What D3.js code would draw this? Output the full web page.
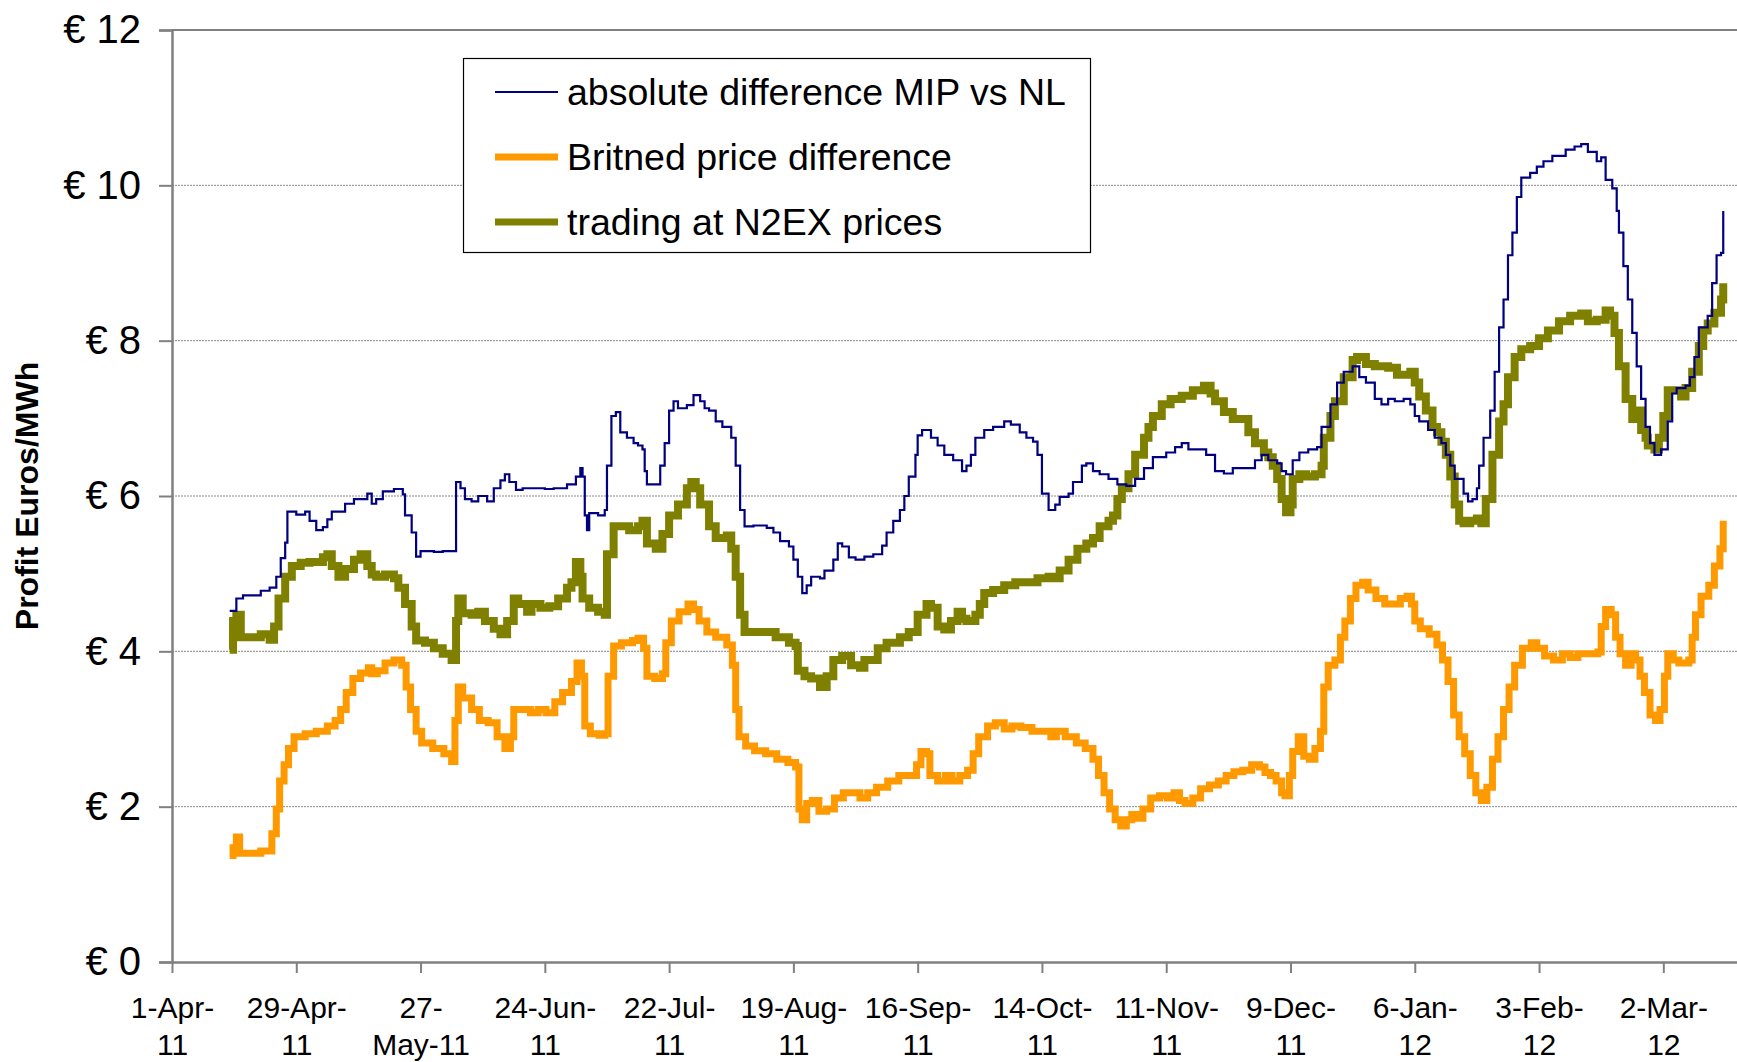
<!DOCTYPE html>
<html>
<head>
<meta charset="utf-8">
<script src="https://cdn.jsdelivr.net/npm/d3@7"></script>
<style>
  html, body { margin: 0; padding: 0; background: #fff; }
  svg { display: block; font-family: "Liberation Sans", Arial, sans-serif; }
</style>
</head>
<body>
<svg id="chart" width="1737" height="1062"></svg>
<script>
// ---------- DATA (days after 1-Apr-2011, values in EUR/MWh) ----------
const seriesNames = ["absolute difference MIP vs NL", "Britned price difference", "trading at N2EX prices"];
const yTickValues = [0, 2, 4, 6, 8, 10, 12];
const yTickLabels = ["€ 0", "€ 2", "€ 4", "€ 6", "€ 8", "€ 10", "€ 12"];
const xTickDays = [0, 28, 56, 84, 112, 140, 168, 196, 224, 252, 280, 308, 336];
const xTickLabels = [
  ["1-Apr-", "11"], ["29-Apr-", "11"], ["27-", "May-11"], ["24-Jun-", "11"], ["22-Jul-", "11"],
  ["19-Aug-", "11"], ["16-Sep-", "11"], ["14-Oct-", "11"], ["11-Nov-", "11"], ["9-Dec-", "11"],
  ["6-Jan-", "12"], ["3-Feb-", "12"], ["2-Mar-", "12"]
];

const mipDays = [13,14.5,16,20,22,23.5,24.5,25.5,26,28,30,31,32.5,34,35,36,39,41,44,45,46,47.5,50,52,52.5,54,55,56,59,61,63,64,65,66,67.5,69,71,72.5,74,75,76,77.5,79,81,84,86,89,91,92,92.5,93,93.5,94,96,97.5,98,99,100,101,102.5,104,105,106,106.5,107,109,110,111,112,113,114,116,117.5,119,120,121,122.5,124,125,126,127,128,129,131,134,135.5,137,139,140,141,142,143,144,146,147,149,150,151,152.5,154,156,158,160,161,162.5,164,165,166,167.5,168,169,171,172.5,174,176,178,179,180,181,183,185,187.5,189,191,192.5,194,195,196,197.5,199,200,202,203,205,206,207.5,209,211,213,215,217,219,221,224,226,227.5,229,231,233,235,237,239,241,244,245.5,247,249,250,251,252.5,254,256,258,259,261,262.5,264,266,267.5,269,271,272.5,274,275.5,277.5,279,280,281,283,284.5,286,287,288,289,291,292,293,294,294.5,295.5,297,298,299,300,301,302,303,304,306,307.5,309,311,314,316,317.5,319,321,322,323,324.5,325.5,326,327,328,329,330,331,332,333,334,335.5,337,338,339,341,342,343,344,346,347,348,349,349.5];
const mipValues = [4.52,4.68,4.72,4.78,4.82,4.96,5.2,5.4,5.8,5.76,5.8,5.68,5.56,5.6,5.7,5.8,5.9,5.96,6.03,5.9,5.96,6.06,6.09,6.02,5.75,5.53,5.22,5.29,5.28,5.29,5.29,6.18,6.1,5.96,5.93,6.0,5.93,6.1,6.2,6.28,6.18,6.08,6.1,6.1,6.09,6.1,6.15,6.25,6.36,6.25,5.75,5.56,5.78,5.75,5.82,6.39,7.03,7.08,6.82,6.75,6.68,6.65,6.6,6.32,6.15,6.15,6.39,6.68,7.1,7.22,7.13,7.17,7.3,7.22,7.13,7.1,6.96,6.89,6.89,6.75,6.39,5.82,5.61,5.62,5.59,5.53,5.42,5.35,5.18,4.96,4.75,4.85,4.96,4.94,5.04,5.18,5.39,5.35,5.21,5.18,5.22,5.25,5.36,5.53,5.68,5.82,6.0,6.25,6.53,6.78,6.85,6.75,6.65,6.53,6.46,6.32,6.39,6.53,6.75,6.85,6.89,6.96,6.92,6.82,6.75,6.7,6.53,6.03,5.82,5.89,5.99,6.03,6.18,6.39,6.42,6.32,6.28,6.22,6.15,6.13,6.22,6.36,6.5,6.56,6.63,6.68,6.6,6.6,6.53,6.32,6.29,6.36,6.36,6.46,6.53,6.46,6.42,6.32,6.28,6.46,6.56,6.6,6.63,6.89,7.18,7.46,7.6,7.67,7.53,7.46,7.25,7.18,7.25,7.22,7.25,7.18,7.03,6.96,6.85,6.75,6.68,6.53,6.39,6.22,6.03,5.93,5.96,6.1,6.39,6.75,7.1,7.6,8.17,8.53,9.1,9.39,9.85,10.1,10.16,10.24,10.31,10.38,10.46,10.5,10.53,10.43,10.31,10.36,10.07,9.96,9.67,9.39,8.96,8.53,8.1,7.67,7.25,6.89,6.68,6.53,6.6,6.96,7.32,7.39,7.42,7.53,7.79,8.17,8.32,8.74,9.1,9.13,9.67];

const britnedDays = [13,13.75,14.5,15.25,17.5,20,22,22.5,23.5,24.25,25.25,26.25,27.5,30,32.5,35,36.75,38,39.25,40.75,42.5,44.25,45,46.25,48,50,51.75,52.75,53.75,55,56.25,58.75,61.25,63,63.75,64.5,65.5,67.5,69.25,71.25,73.25,75,76.25,77,78.75,80.75,82.5,84.25,86.25,88,90,91.25,92.25,93,94.25,96.25,97.5,98.25,99.5,101.25,103.75,105,106.25,107,108.75,110.5,111.25,112.5,114.25,116.25,117.5,118.75,120.5,122.5,125,126.25,127,127.75,129.25,131.25,133.75,136.25,138.75,140.5,141.25,142,143,144.25,145.75,147.5,149.25,151.25,153.25,155,156.75,158.75,161.25,163.75,166.25,167.75,168.75,170,170.75,172.5,174.25,175.75,177.5,179.25,180.5,181.75,183.75,185.5,187.5,189.25,191.25,193.75,196.25,198,199.25,201.25,203.75,205.75,207.5,208.75,210,211.25,212.5,213.75,215,216.25,217.5,218.75,220.5,222.5,224.25,225.75,227,228.25,230,231.75,233.75,235.75,237.5,239.25,241.25,243.25,245,246.25,247.5,248.75,250,250.75,251.75,252.5,253.75,255,256.25,257.5,258.75,259.5,260.5,262,263.25,264.25,265.5,266.75,268.25,269.5,271.25,273.25,275,276.75,278.25,279.25,280,281.25,283.25,285,286.25,287.5,288.75,290,291.25,292.5,293.75,295,296.25,297.5,298.75,300,301.25,302.5,304.25,306.25,307.5,309.25,311.25,313.25,315,316.75,318.75,321.25,322,323,324.25,325.25,326.25,327.5,328.75,329.75,330.75,331.75,333,334.25,335.25,336.25,337,338.25,339.5,340.75,341.75,342.5,343.25,344.5,346.25,347.5,348.75,349.5];
const britnedValues = [1.37,1.47,1.61,1.4,1.4,1.43,1.43,1.65,1.97,2.33,2.54,2.75,2.9,2.94,2.97,3.04,3.11,3.25,3.47,3.65,3.72,3.79,3.71,3.75,3.85,3.89,3.82,3.54,3.25,2.97,2.82,2.75,2.68,2.58,3.11,3.54,3.4,3.25,3.11,3.08,2.9,2.75,2.9,3.25,3.25,3.21,3.25,3.21,3.35,3.47,3.61,3.85,3.68,3.04,2.94,2.92,2.94,3.68,4.07,4.11,4.14,4.17,4.04,3.68,3.65,3.71,4.11,4.39,4.51,4.61,4.54,4.39,4.25,4.18,4.08,3.82,3.25,2.9,2.78,2.72,2.68,2.61,2.57,2.51,1.97,1.83,2.04,2.08,1.94,1.97,2.11,2.18,2.18,2.11,2.18,2.25,2.33,2.4,2.4,2.54,2.71,2.68,2.4,2.33,2.4,2.33,2.4,2.47,2.68,2.9,3.04,3.08,3.0,3.04,3.02,2.97,2.97,2.9,2.97,2.9,2.82,2.75,2.61,2.4,2.18,1.97,1.83,1.75,1.83,1.9,1.85,1.97,2.11,2.14,2.11,2.18,2.08,2.04,2.11,2.23,2.28,2.33,2.4,2.45,2.47,2.54,2.51,2.44,2.4,2.33,2.18,2.14,2.4,2.71,2.9,2.65,2.61,2.75,2.97,3.54,3.82,3.89,4.18,4.39,4.68,4.85,4.89,4.79,4.68,4.61,4.61,4.68,4.71,4.61,4.39,4.29,4.22,4.08,3.89,3.61,3.18,2.9,2.68,2.4,2.18,2.08,2.25,2.61,2.9,3.25,3.54,3.82,4.04,4.11,4.04,3.94,3.89,3.97,3.92,3.97,3.97,3.99,4.32,4.54,4.47,4.18,3.97,3.82,3.97,3.89,3.68,3.47,3.18,3.11,3.25,3.68,3.97,3.89,3.85,3.85,3.89,4.18,4.47,4.71,4.85,5.1,5.32,5.68];

const n2exDays = [13,13.75,14.5,15.5,17.5,20,22,23,24,25.5,27,29,31,34,35,36,37.5,39,41,42.5,44,45,46,48,50,51,52.5,54,55,57,59,61,63,64,64.5,65.5,67.5,69,70.5,72.5,74,75.5,77,78,80,81,83,85,87,89,90,91,92,92.5,94,96,97.5,98,99.5,101,103,105,106,107,109,110.5,112,114,116,117,118,119,121,122.5,125,126,127,128,129,131,134,136,139,140.5,141,142.5,144,146,147.5,149,151,153,155,156,159,161,164,166,168,170,171,172.5,174,175.5,177,178,179,181,182,183,185,187.5,190,192.5,195,197.5,199,200,202,204,206,207.5,209,211,212,213,214,215.5,217,219,220,221,223,225,227.5,230,232.5,234,235,237,239,241,242.5,244,246,247,248,249,250,251,252,252.5,254,255.5,257.5,259,259.5,261,262,264,266,267,269,271,274,276,277.5,279,280,281,282.5,284,285,286,287,288,289,290,291,292.5,294,295,296,297.5,299,300,301,302.5,304,306,308,310,312.5,315,317.5,319,321,323,324,325,326,327.5,329,330,331,332,332.5,334,335,336,337,338,340,341,342.5,344,345,346,347.5,349,349.5];
const n2exValues = [4.02,4.39,4.47,4.18,4.18,4.22,4.15,4.32,4.68,4.96,5.1,5.14,5.15,5.21,5.25,5.1,4.96,5.06,5.18,5.25,5.1,4.99,4.96,4.99,4.94,4.82,4.61,4.32,4.14,4.11,4.04,3.97,3.89,4.39,4.68,4.49,4.47,4.51,4.39,4.29,4.22,4.39,4.68,4.61,4.51,4.61,4.56,4.58,4.68,4.82,4.89,5.15,4.96,4.68,4.56,4.51,4.47,5.25,5.61,5.61,5.56,5.61,5.68,5.39,5.32,5.51,5.75,5.89,6.1,6.18,6.1,5.89,5.61,5.46,5.49,5.32,4.96,4.47,4.25,4.25,4.25,4.18,4.11,4.07,3.75,3.68,3.65,3.54,3.68,3.89,3.94,3.82,3.79,3.89,4.04,4.11,4.18,4.25,4.47,4.61,4.56,4.32,4.28,4.39,4.51,4.42,4.39,4.47,4.61,4.75,4.79,4.85,4.89,4.89,4.94,4.96,4.94,5.04,5.18,5.32,5.39,5.46,5.61,5.68,5.75,5.96,6.1,6.28,6.53,6.75,6.89,7.03,7.18,7.25,7.29,7.36,7.42,7.32,7.22,7.08,6.99,6.99,6.82,6.68,6.56,6.5,6.39,6.22,5.96,5.79,5.89,6.22,6.28,6.25,6.28,6.39,6.75,7.03,7.22,7.53,7.75,7.79,7.7,7.67,7.65,7.56,7.56,7.6,7.46,7.28,7.1,6.89,6.82,6.7,6.53,6.25,5.89,5.68,5.65,5.68,5.71,5.65,5.96,6.53,6.96,7.18,7.53,7.79,7.89,7.93,8.03,8.13,8.25,8.32,8.35,8.25,8.27,8.39,8.32,8.1,7.67,7.25,6.99,7.1,6.85,6.75,6.65,6.6,6.75,7.03,7.36,7.36,7.28,7.39,7.6,7.93,8.13,8.22,8.36,8.53,8.74];

// ---------- CHART ----------
const svg = d3.select("#chart");
const plot = { left: 172, right: 1737, top: 30, bottom: 962 };
const startDate = new Date(2011, 3, 1);
const dayToDate = d => new Date(startDate.getTime() + d * 864e5);

const x = d3.scaleTime()
  .domain([startDate, dayToDate(352.6)])
  .range([plot.left, plot.right]);
const y = d3.scaleLinear().domain([0, 12]).range([plot.bottom, plot.top]);

const font = '"Liberation Sans", Arial, sans-serif';

// gridlines
svg.append("g").selectAll("line")
  .data(yTickValues.filter(v => v > 0 && v < 12))
  .join("line")
  .attr("x1", plot.left).attr("x2", plot.right)
  .attr("y1", d => y(d)).attr("y2", d => y(d))
  .attr("stroke", "#8a8a8a").attr("stroke-width", 1)
  .attr("stroke-dasharray", "2,1");

// top border
svg.append("line")
  .attr("x1", plot.left).attr("x2", plot.right)
  .attr("y1", y(12)).attr("y2", y(12))
  .attr("stroke", "#808080").attr("stroke-width", 2);

// series
const series = [
  { name: seriesNames[1], days: britnedDays, vals: britnedValues, color: "#FF9900", width: 7 },
  { name: seriesNames[2], days: n2exDays, vals: n2exValues, color: "#808000", width: 8 },
  { name: seriesNames[0], days: mipDays, vals: mipValues, color: "#000080", width: 2.2 }
];
const line = d3.line()
  .x(d => x(dayToDate(d[0])))
  .y(d => y(d[1]))
  .curve(d3.curveStepAfter);

svg.append("g").selectAll("path")
  .data(series)
  .join("path")
  .attr("d", s => line(s.days.map((d, i) => [d, s.vals[i]])))
  .attr("fill", "none")
  .attr("stroke", s => s.color)
  .attr("stroke-width", s => s.width)
  .attr("stroke-linejoin", "miter");

// Y axis
const yAxis = d3.axisLeft(y)
  .tickValues(yTickValues)
  .tickFormat((d, i) => yTickLabels[i])
  .tickSize(13)
  .tickPadding(18);
const gy = svg.append("g").attr("transform", `translate(${plot.left},0)`).call(yAxis);
gy.select(".domain").attr("stroke", "#808080").attr("stroke-width", 2.5);
gy.selectAll(".tick line").attr("stroke", "#808080").attr("stroke-width", 2);
gy.selectAll(".tick text")
  .attr("font-family", font).attr("font-size", 40).attr("fill", "#000");

// X axis
const xAxis = d3.axisBottom(x)
  .tickValues(xTickDays.map(dayToDate))
  .tickFormat("")
  .tickSize(11)
  .tickSizeOuter(0);
const gx = svg.append("g").attr("transform", `translate(0,${plot.bottom})`).call(xAxis);
gx.select(".domain").attr("stroke", "#808080").attr("stroke-width", 2.5);
gx.selectAll(".tick line").attr("stroke", "#808080").attr("stroke-width", 2);
gx.selectAll(".tick").each(function(d, i) {
  const t = d3.select(this).append("text")
    .attr("font-family", font).attr("font-size", 30).attr("fill", "#000")
    .attr("text-anchor", "middle");
  t.append("tspan").attr("x", 0).attr("y", 56).text(xTickLabels[i][0]);
  t.append("tspan").attr("x", 0).attr("y", 93).text(xTickLabels[i][1]);
});

// Y axis title
svg.append("text")
  .attr("transform", `translate(38,${(plot.top + plot.bottom) / 2}) rotate(-90)`)
  .attr("text-anchor", "middle")
  .attr("font-family", font).attr("font-size", 32).attr("font-weight", "bold")
  .text("Profit Euros/MWh");

// Legend
const legend = svg.append("g");
legend.append("rect")
  .attr("x", 463.5).attr("y", 58.5).attr("width", 627).attr("height", 194)
  .attr("fill", "#fff").attr("stroke", "#000").attr("stroke-width", 1.2);
const legendItems = [
  { name: seriesNames[0], color: "#000080", width: 2.2 },
  { name: seriesNames[1], color: "#FF9900", width: 7 },
  { name: seriesNames[2], color: "#808000", width: 7 }
];
const rowY = [92, 157, 222];
legendItems.forEach((it, i) => {
  legend.append("line")
    .attr("x1", 495).attr("x2", 558).attr("y1", rowY[i]).attr("y2", rowY[i])
    .attr("stroke", it.color).attr("stroke-width", it.width);
  legend.append("text")
    .attr("x", 567).attr("y", rowY[i] + 13)
    .attr("font-family", font).attr("font-size", 37.5).attr("fill", "#000")
    .text(it.name);
});
</script>
</body>
</html>
